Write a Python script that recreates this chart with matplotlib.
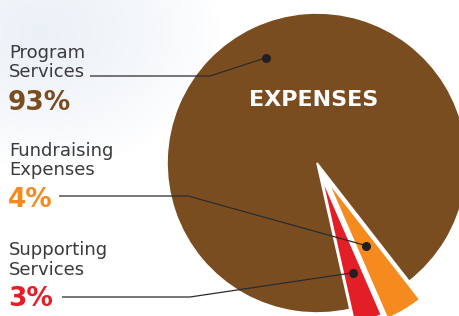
import numpy as np
import matplotlib
matplotlib.use("Agg")
import matplotlib.pyplot as plt

# ---- data ----
categories = ["Supporting\nServices", "Fundraising\nExpenses", "Program\nServices"]
values = [3, 4, 93]
colors = ["#E31E26", "#F58A1F", "#7A4D21"]
explode_px = [15, 21, 0]
pct_labels = ["3%", "4%", "93%"]
title = "EXPENSES"

W, H = 459, 316
fig = plt.figure(figsize=(W / 100, H / 100), dpi=100)
ax = fig.add_axes([0, 0, 1, 1])
ax.set_xlim(0, W)
ax.set_ylim(0, H)
ax.set_aspect("equal")
ax.axis("off")

# faint background tint (top-left)
yy, xx = np.mgrid[0:H, 0:W]
d = np.sqrt(((xx - 40) / 180.0) ** 2 + ((yy - 30) / 140.0) ** 2)
alpha = np.clip(1 - d, 0, 1) ** 0.8 * 0.5
bg = np.ones((H, W, 4))
bg[..., 0] = 0.84
bg[..., 1] = 0.89
bg[..., 2] = 0.94
bg[..., 3] = alpha
ax.imshow(bg, extent=(0, W, 0, H), zorder=0, origin="upper")

def img(x, y):
    return x, H - y

cx, cy = img(317, 163)
R = 150
start = -77.3
wedges, _ = ax.pie(values, colors=colors, explode=explode_px, radius=R,
                   center=(cx, cy), startangle=start, counterclock=True,
                   wedgeprops=dict(edgecolor="white", linewidth=1.2), frame=True)
ax.set_xlim(0, W)
ax.set_ylim(0, H)
ax.axis("off")
for w in wedges:
    w.set_zorder(2)

ax.text(*img(314, 106), title, color="white", fontsize=16, fontweight="bold",
        ha="center", va="baseline", zorder=5)

# geometry of dots, from wedge angles
total = sum(values)
angles = []
a = start
for v in values:
    a2 = a + 360 * v / total
    angles.append((a, a2))
    a = a2
dot_frac = [0.67, 0.50, 0.78]
dot_ang_override = [None, None, 116]

text_color = "#3A3A3A"
label_y = [(255, 275, 306), (156, 175, 207), (58, 77, 110)]
line_start = [(62, 297), (59, 196), (90, 76)]
bend_x = [190, 188, 210]

for i in range(3):
    a1, a2 = angles[i]
    mid = np.deg2rad((a1 + a2) / 2)
    ang = mid if dot_ang_override[i] is None else np.deg2rad(dot_ang_override[i])
    ox = cx + explode_px[i] * np.cos(mid)
    oy = cy + explode_px[i] * np.sin(mid)
    dx = ox + dot_frac[i] * R * np.cos(ang)
    dy = oy + dot_frac[i] * R * np.sin(ang)
    sx, sy = img(*line_start[i])
    ax.plot([sx, bend_x[i], dx], [sy, sy, dy], color="#2B2B2B", lw=0.9,
            zorder=6, solid_capstyle="butt")
    ax.plot([dx], [dy], "o", color="#231F20", ms=5.5, zorder=7)
    l1, l2 = categories[i].split("\n")
    y1, y2, y3 = label_y[i]
    ax.text(*img(9, y1), l1, color=text_color, fontsize=13, ha="left",
            va="baseline", zorder=5)
    ax.text(*img(9, y2), l2, color=text_color, fontsize=13, ha="left",
            va="baseline", zorder=5)
    ax.text(*img(8, y3), pct_labels[i], color=colors[i], fontsize=19,
            fontweight="bold", ha="left", va="baseline", zorder=5)

fig.savefig("out.png", dpi=100)
